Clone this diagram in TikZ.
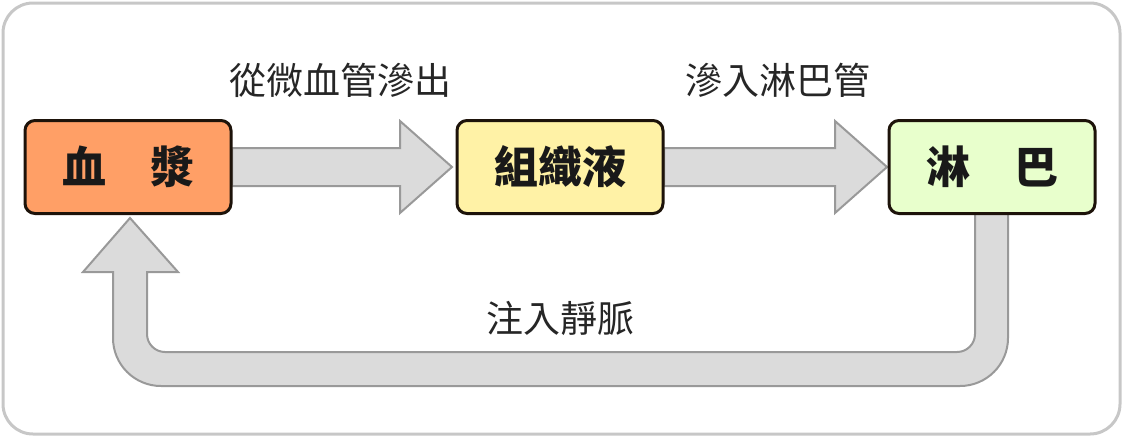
\documentclass[tikz,border=0pt]{standalone}
\usepackage{fontspec}
\setmainfont{Noto Sans CJK TC}
\begin{document}
\begin{tikzpicture}[x=1pt,y=-1pt,
  box/.style={draw=black!85!brown,line width=3pt,rounded corners=10pt,minimum width=206pt,minimum height=93pt,inner sep=0pt,font=\fontsize{44}{48}\selectfont\bfseries,text=black!90},
  blk/.style={fill=black!14,draw=black!40,line width=2pt,line join=miter},
  lbl/.style={font=\fontsize{37}{40}\selectfont,text=black!85}]
\useasboundingbox (0,0) rectangle (1123,437);
\draw[black!22,line width=3pt,rounded corners=30pt] (3,3) rectangle (1120,434);
\draw[blk] (232,148) -- (400,148) -- (400,121) -- (452,167) -- (400,213) -- (400,186) -- (232,186) -- cycle;
\draw[blk] (664,148) -- (835,148) -- (835,121) -- (887,167) -- (835,213) -- (835,186) -- (664,186) -- cycle;
\draw[blk] (975,215) [rounded corners=18pt] -- (975,352) -- (147,352) [sharp corners] -- (147,272) -- (178,272) -- (130,218) -- (83,272) -- (113,272) [rounded corners=48pt] -- (113,386) -- (1008,386) [sharp corners] -- (1008,215);
\node[box,fill=orange!75!red!60!white] (a) at (128,167) {血\hspace{1em}漿};
\node[box,fill=orange!30!yellow!35!white] (b) at (560,167) {組織液};
\node[box,fill=green!45!yellow!20!white] (c) at (992,167) {淋\hspace{1em}巴};
\node[lbl] (l1) at (340,80) {從微血管滲出};
\node[lbl] (l2) at (778,80) {滲入淋巴管};
\node[lbl] (l3) at (560,318) {注入靜脈};
\end{tikzpicture}
\end{document}
